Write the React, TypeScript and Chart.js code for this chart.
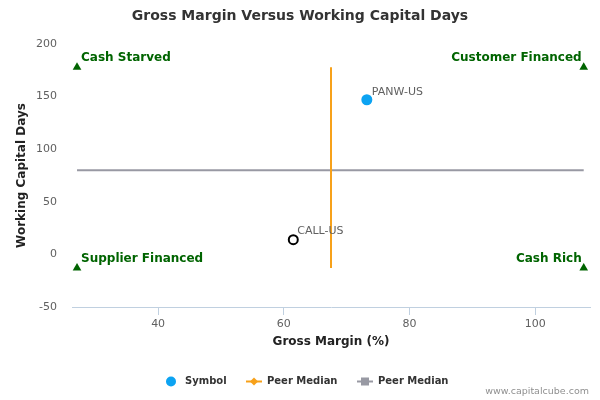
import React, { useEffect, useRef } from "react";
import { Chart, registerables } from "chart.js";

Chart.register(...registerables);

const FONT = "'DejaVu Sans', sans-serif";

const chartTitle = "Gross Margin Versus Working Capital Days";
const xAxisTitle = "Gross Margin (%)";
const yAxisTitle = "Working Capital Days";
const xTicks = [40, 60, 80, 100];
const yTicks = [-50, 0, 50, 100, 150, 200];

const symbolNames = ["PANW-US"];
const symbolX = [73.2];
const symbolY = [147];

const peerNames = ["CALL-US"];
const peerX = [61.5];
const peerY = [14];

const medianMarginX = [67.5, 67.5];
const medianMarginY = [-13, 178];

const medianDaysX = [27.1, 107.7];
const medianDaysY = [80, 80];

const quadrantNames = ["Cash Starved", "Customer Financed", "Supplier Financed", "Cash Rich"];
const quadrantX = [27.1, 107.7, 27.1, 107.7];
const quadrantY = [178, 178, -13, -13];

const legendLabels = ["Symbol", "Peer Median", "Peer Median"];
const creditText = "www.capitalcube.com";

const toPts = (xs: number[], ys: number[]) => xs.map((x, i) => ({ x, y: ys[i] }));

const overlayPlugin = {
  id: "overlay",
  afterDatasetsDraw(chart: any) {
    const ctx = chart.ctx;
    ctx.save();
    ctx.font = `11px ${FONT}`;
    ctx.fillStyle = "#606060";
    ctx.textAlign = "left";
    ctx.textBaseline = "middle";
    const m0 = chart.getDatasetMeta(0);
    m0.data.forEach((el: any, i: number) => ctx.fillText(symbolNames[i], el.x + 5, el.y - 8));
    const m1 = chart.getDatasetMeta(1);
    m1.data.forEach((el: any, i: number) => ctx.fillText(peerNames[i], el.x + 4, el.y - 9));
    ctx.font = `bold 12px ${FONT}`;
    ctx.fillStyle = "#006400";
    const m4 = chart.getDatasetMeta(4);
    m4.data.forEach((el: any, i: number) => {
      const right = i % 2 === 1;
      ctx.textAlign = right ? "right" : "left";
      ctx.fillText(quadrantNames[i], right ? el.x - 2 : el.x + 4, el.y - 9);
    });
    ctx.restore();
  },
  afterDraw(chart: any) {
    const ctx = chart.ctx;
    ctx.save();
    ctx.font = `bold 14px ${FONT}`;
    ctx.fillStyle = "#333333";
    ctx.textAlign = "center";
    ctx.textBaseline = "middle";
    ctx.fillText(chartTitle, 300, 16.5);
    const ly = 381.5;
    ctx.font = `bold 10px ${FONT}`;
    ctx.textAlign = "left";
    ctx.fillStyle = "#0ca3f2";
    ctx.beginPath();
    ctx.arc(171, ly, 5, 0, Math.PI * 2);
    ctx.fill();
    ctx.fillStyle = "#333333";
    ctx.fillText(legendLabels[0], 185, ly);
    ctx.strokeStyle = "#f7a11a";
    ctx.lineWidth = 2;
    ctx.beginPath();
    ctx.moveTo(246, ly);
    ctx.lineTo(262, ly);
    ctx.stroke();
    ctx.fillStyle = "#f7a11a";
    ctx.beginPath();
    ctx.moveTo(254, ly - 4);
    ctx.lineTo(258, ly);
    ctx.lineTo(254, ly + 4);
    ctx.lineTo(250, ly);
    ctx.closePath();
    ctx.fill();
    ctx.fillStyle = "#333333";
    ctx.fillText(legendLabels[1], 267, ly);
    ctx.strokeStyle = "#9899a3";
    ctx.beginPath();
    ctx.moveTo(357, ly);
    ctx.lineTo(373, ly);
    ctx.stroke();
    ctx.fillStyle = "#9899a3";
    ctx.fillRect(361, ly - 4, 8, 8);
    ctx.fillStyle = "#333333";
    ctx.fillText(legendLabels[2], 378, ly);
    ctx.font = `9.5px ${FONT}`;
    ctx.fillStyle = "#909090";
    ctx.textAlign = "right";
    ctx.fillText(creditText, 589, 392);
    ctx.restore();
  },
};

export default function App() {
  const ref = useRef<HTMLCanvasElement | null>(null);
  useEffect(() => {
    document.body.style.margin = "0";
    if (!ref.current) return;
    const chart = new Chart(ref.current, {
      type: "scatter",
      data: {
        datasets: [
          {
            label: legendLabels[0],
            data: toPts(symbolX, symbolY),
            backgroundColor: "#0ca3f2",
            borderWidth: 0,
            pointRadius: 5.5,
          },
          {
            label: "Peers",
            data: toPts(peerX, peerY),
            backgroundColor: "rgba(0,0,0,0)",
            borderColor: "#000000",
            borderWidth: 2,
            pointRadius: 4.5,
          },
          {
            label: legendLabels[1],
            data: toPts(medianMarginX, medianMarginY),
            showLine: true,
            borderColor: "#f7a11a",
            borderWidth: 2,
            pointRadius: 0,
          },
          {
            label: legendLabels[2],
            data: toPts(medianDaysX, medianDaysY),
            showLine: true,
            borderColor: "#9899a3",
            borderWidth: 2,
            pointRadius: 0,
          },
          {
            label: "Quadrants",
            data: toPts(quadrantX, quadrantY),
            pointStyle: "triangle",
            backgroundColor: "#006400",
            borderColor: "#006400",
            borderWidth: 0,
            pointRadius: 5,
          },
        ],
      } as any,
      options: {
        animation: false,
        responsive: false,
        devicePixelRatio: 1,
        layout: { padding: { left: 10, right: 10, top: 44, bottom: 41 } },
        plugins: {
          legend: { display: false },
          title: { display: false },
          tooltip: { enabled: false },
        },
        scales: {
          x: {
            type: "linear",
            min: 26.3,
            max: 108.7,
            afterBuildTicks: (s: any) => {
              s.ticks = xTicks.map((v) => ({ value: v }));
            },
            afterFit: (s: any) => {
              s.height = 52;
            },
            grid: { drawOnChartArea: false, color: "#c0d0e0", tickLength: 8 },
            border: { color: "#c0d0e0", width: 1 },
            ticks: { color: "#606060", font: { family: FONT, size: 11 }, padding: 3 },
            title: {
              display: true,
              text: xAxisTitle,
              color: "#222222",
              font: { family: FONT, size: 12, weight: "bold" },
              padding: { top: 0, bottom: 10 },
            },
          },
          y: {
            type: "linear",
            min: -50,
            max: 200,
            afterBuildTicks: (s: any) => {
              s.ticks = yTicks.map((v) => ({ value: v }));
            },
            afterFit: (s: any) => {
              s.width = 62;
            },
            grid: { display: false, drawTicks: false },
            border: { display: false },
            ticks: { color: "#606060", font: { family: FONT, size: 11 }, padding: 15 },
            title: {
              display: true,
              text: yAxisTitle,
              color: "#222222",
              font: { family: FONT, size: 12, weight: "bold" },
              padding: { top: 5, bottom: 4 },
            },
          },
        },
      } as any,
      plugins: [overlayPlugin],
    });
    return () => chart.destroy();
  }, []);
  return (
    <div style={{ width: 600, height: 400, position: "relative" }}>
      <canvas ref={ref} width={600} height={400} style={{ width: 600, height: 400, display: "block" }} />
    </div>
  );
}
